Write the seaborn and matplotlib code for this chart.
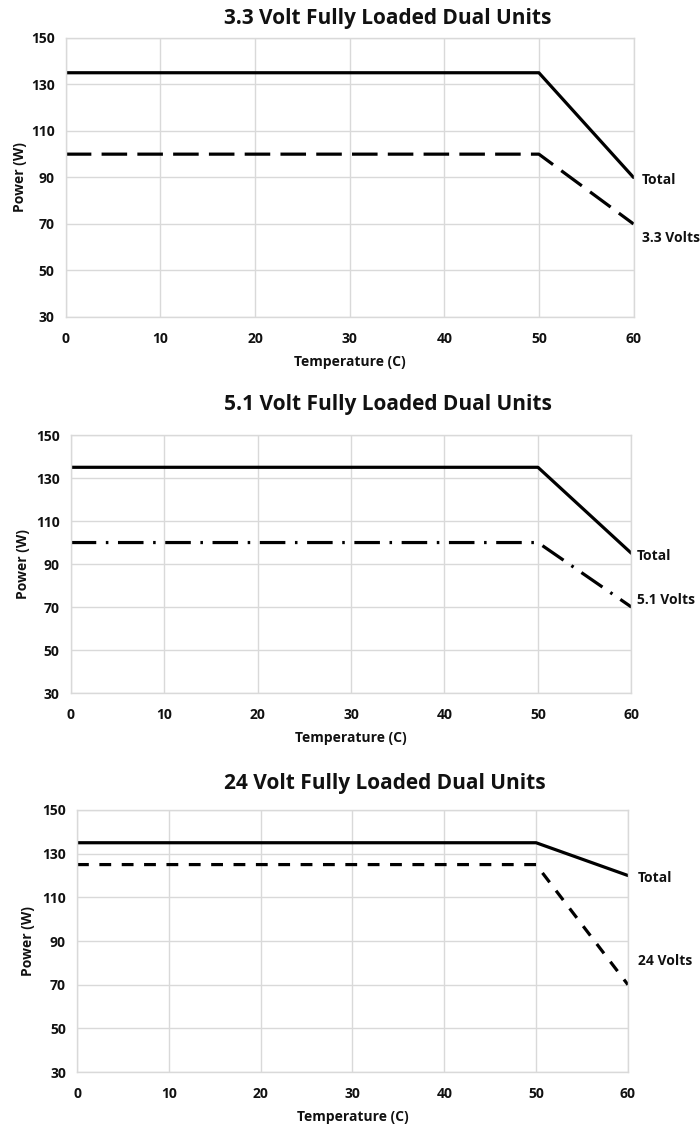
import matplotlib
matplotlib.use("Agg")
import matplotlib.pyplot as plt
import numpy as np
import pandas as pd
import seaborn as sns

# data
temps = [0, 50, 60]

total_33 = [135, 135, 90]
volts_33 = [100, 100, 70]

total_51 = [135, 135, 95]
volts_51 = [100, 100, 70]

total_24 = [135, 135, 120]
volts_24 = [125, 125, 70]

titles = [
    "3.3 Volt Fully Loaded Dual Units",
    "5.1 Volt Fully Loaded Dual Units",
    "24 Volt Fully Loaded Dual Units",
]
rail_names = ["3.3 Volts", "5.1 Volts", "24 Volts"]
y_ticks = [30, 50, 70, 90, 110, 130, 150]
x_ticks = [0, 10, 20, 30, 40, 50, 60]

sns.set_theme(style="white")
plt.rcParams["font.family"] = ["Open Sans", "DejaVu Sans"]
plt.rcParams["font.weight"] = "bold"
plt.rcParams["text.color"] = "#111111"
plt.rcParams["axes.labelcolor"] = "#111111"
plt.rcParams["xtick.color"] = "#111111"
plt.rcParams["ytick.color"] = "#111111"

GRID = "#d9d9d9"
LW = 2.3
TXT = 10

# per panel: axes rect, dash style of rail line, title placement, label offsets (pts)
panels = [
    dict(rect=[0.094, 0.7195, 0.811, 0.247], dashes=(8, 3.2),
         title_x=0.567, title_pad=10, ylabel_pad=3,
         total=total_33, rail=volts_33, t_off=(6, -2), r_off=(6, -10)),
    dict(rect=[0.101, 0.3867, 0.801, 0.2283], dashes=(8, 3, 0.8, 3),
         title_x=0.565, title_pad=18, ylabel_pad=4,
         total=total_51, rail=volts_51, t_off=(4, -2), r_off=(4, 5)),
    dict(rect=[0.110, 0.0513, 0.787, 0.2319], dashes=(3.7, 3.3),
         title_x=0.559, title_pad=15, ylabel_pad=5,
         total=total_24, rail=volts_24, t_off=(7, -2), r_off=(7, 0), r_y=81),
]

fig = plt.figure(figsize=(7.0, 11.3), dpi=100)

for i, p in enumerate(panels):
    ax = fig.add_axes(p["rect"])
    df = pd.DataFrame({
        "temp": temps * 2,
        "power": p["total"] + p["rail"],
        "series": ["Total"] * 3 + [rail_names[i]] * 3,
    })
    sns.lineplot(
        data=df, x="temp", y="power", hue="series", style="series",
        palette=["black", "black"],
        dashes=["", p["dashes"]],
        linewidth=LW, legend=False, ax=ax,
    )
    ax.set_xlim(0, 60)
    ax.set_ylim(30, 150)
    ax.set_xticks(x_ticks)
    ax.set_yticks(y_ticks)
    ax.grid(True, color=GRID, linewidth=1)
    for s in ax.spines.values():
        s.set_color(GRID)
        s.set_linewidth(1)
    ax.tick_params(axis="x", length=0, labelsize=TXT, pad=11)
    ax.tick_params(axis="y", length=0, labelsize=TXT, pad=8)
    for lab in ax.get_xticklabels() + ax.get_yticklabels():
        lab.set_fontweight("bold")
    ax.set_title(titles[i], fontsize=15, fontweight="bold",
                 x=p["title_x"], pad=p["title_pad"])
    ax.set_xlabel("Temperature (C)", fontsize=TXT, fontweight="bold", labelpad=6)
    ax.set_ylabel("Power (W)", fontsize=TXT, fontweight="bold",
                  labelpad=p["ylabel_pad"])

    ax.annotate("Total", xy=(60, p["total"][-1]), xytext=p["t_off"],
                textcoords="offset points", ha="left", va="center",
                fontsize=TXT, fontweight="bold", annotation_clip=False)
    ax.annotate(rail_names[i], xy=(60, p.get("r_y", p["rail"][-1])),
                xytext=p["r_off"], textcoords="offset points",
                ha="left", va="center", fontsize=TXT, fontweight="bold",
                annotation_clip=False)

fig.savefig("out.png", dpi=100)
